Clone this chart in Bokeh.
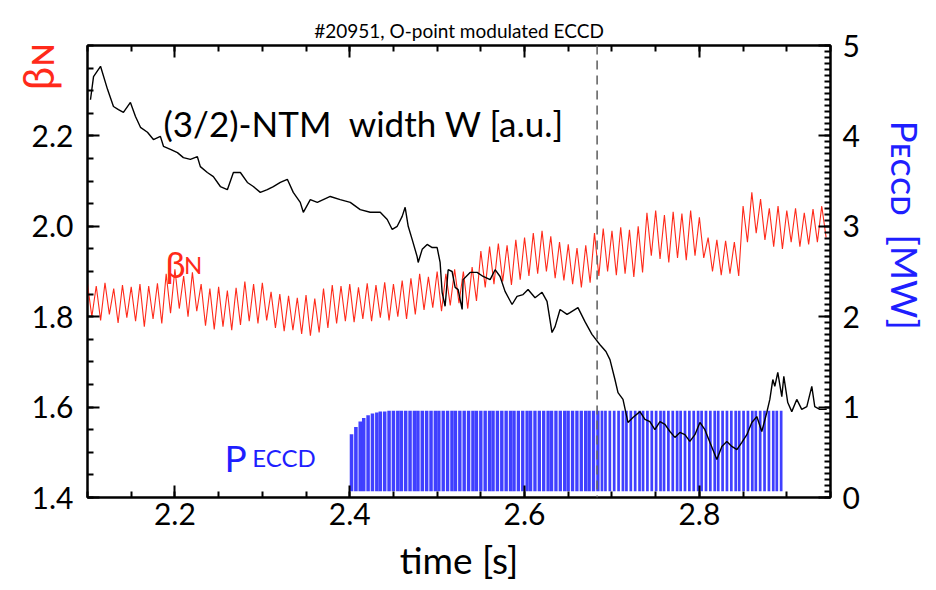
import math
from bokeh.plotting import figure
from bokeh.models import (Range1d, LinearAxis, Label, Span, FixedTicker, SingleIntervalTicker,
                          NumeralTickFormatter, CustomJSTickFormatter)
from bokeh.embed import file_html
from bokeh.resources import INLINE

# ---------------- data ----------------
# NTM island width W [a.u.] (drawn on the beta_N scale)
w_t = [2.1034, 2.1069, 2.1149, 2.1229, 2.1297, 2.1354, 2.1411, 2.1491, 2.1549, 2.1606,
       2.1686, 2.1754, 2.1834, 2.1869, 2.1949, 2.2029, 2.2097, 2.2177, 2.2257, 2.2291,
       2.2371, 2.2440, 2.2520, 2.2600, 2.2669, 2.2749, 2.2829, 2.2897, 2.2977, 2.3057,
       2.3126, 2.3206, 2.3286, 2.3354, 2.3434, 2.3469, 2.3549, 2.3629, 2.3697, 2.3777,
       2.3891, 2.4006, 2.4120, 2.4234, 2.4349, 2.4429, 2.4486, 2.4543, 2.4600, 2.4634,
       2.4669, 2.4714, 2.4771, 2.4783, 2.4829, 2.4886, 2.4943, 2.5000, 2.5034, 2.5057,
       2.5091, 2.5126, 2.5171, 2.5206, 2.5240, 2.5286, 2.5297, 2.5377, 2.5457, 2.5526,
       2.5606, 2.5663, 2.5720, 2.5777, 2.5857, 2.5914, 2.5983, 2.6040, 2.6120, 2.6200,
       2.6257, 2.6314, 2.6349, 2.6406, 2.6486, 2.6520, 2.6611, 2.6691, 2.6771, 2.6863,
       2.6931, 2.6977, 2.7034, 2.7069, 2.7126, 2.7183, 2.7240, 2.7320, 2.7377, 2.7434,
       2.7491, 2.7549, 2.7606, 2.7663, 2.7720, 2.7777, 2.7834, 2.7891, 2.7949, 2.8006,
       2.8063, 2.8120, 2.8200, 2.8257, 2.8314, 2.8371, 2.8429, 2.8486, 2.8543, 2.8600,
       2.8657, 2.8714, 2.8771, 2.8806, 2.8840, 2.8863, 2.8897, 2.8943, 2.8966, 2.9011,
       2.9057, 2.9114, 2.9171, 2.9229, 2.9286, 2.9320, 2.9377, 2.9457]
w_v = [2.280, 2.331, 2.354, 2.303, 2.265, 2.258, 2.252, 2.274, 2.243, 2.219,
       2.208, 2.192, 2.199, 2.177, 2.170, 2.163, 2.152, 2.148, 2.154, 2.132,
       2.119, 2.110, 2.088, 2.081, 2.119, 2.119, 2.097, 2.088, 2.075, 2.081,
       2.088, 2.097, 2.104, 2.075, 2.053, 2.031, 2.059, 2.053, 2.059, 2.066,
       2.059, 2.053, 2.037, 2.031, 2.031, 2.015, 1.993, 2.000, 2.022, 2.042,
       2.000, 1.971, 1.933, 1.920, 1.949, 1.960, 1.953, 1.953, 1.920, 1.854,
       1.823, 1.904, 1.900, 1.865, 1.860, 1.816, 1.882, 1.898, 1.898, 1.889,
       1.882, 1.904, 1.889, 1.856, 1.827, 1.845, 1.849, 1.860, 1.842, 1.854,
       1.834, 1.765, 1.778, 1.816, 1.805, 1.809, 1.820, 1.789, 1.761, 1.738,
       1.723, 1.705, 1.661, 1.632, 1.617, 1.566, 1.577, 1.590, 1.573, 1.568,
       1.550, 1.568, 1.562, 1.546, 1.533, 1.544, 1.539, 1.524, 1.539, 1.566,
       1.550, 1.522, 1.484, 1.513, 1.524, 1.513, 1.506, 1.522, 1.539, 1.566,
       1.579, 1.546, 1.588, 1.617, 1.661, 1.646, 1.677, 1.623, 1.668, 1.610,
       1.590, 1.617, 1.595, 1.601, 1.646, 1.601, 1.595, 1.595]

# beta_N : maxima and minima of the modulated trace
beta_peak_t = [2.100, 2.110, 2.120, 2.130, 2.140, 2.150, 2.160, 2.170, 2.180, 2.190,
               2.200, 2.210, 2.220, 2.230, 2.240, 2.250, 2.260, 2.270, 2.280, 2.290,
               2.300, 2.310, 2.320, 2.330, 2.340, 2.350, 2.360, 2.370, 2.380, 2.390,
               2.400, 2.410, 2.420, 2.430, 2.440, 2.450, 2.460, 2.470, 2.480, 2.490,
               2.500, 2.510, 2.520, 2.530, 2.540, 2.550, 2.560, 2.570, 2.580, 2.590,
               2.600, 2.610, 2.620, 2.630, 2.640, 2.650, 2.660, 2.670, 2.680, 2.690,
               2.700, 2.710, 2.720, 2.730, 2.740, 2.750, 2.760, 2.770, 2.780, 2.790,
               2.800, 2.810, 2.820, 2.830, 2.840, 2.850, 2.860, 2.870, 2.880, 2.890,
               2.900, 2.910, 2.920, 2.930, 2.940]
beta_peak = [1.872, 1.868, 1.875, 1.862, 1.870, 1.866, 1.872, 1.868, 1.874, 1.895,
             1.905, 1.890, 1.898, 1.872, 1.862, 1.866, 1.858, 1.864, 1.878, 1.872,
             1.875, 1.855, 1.850, 1.846, 1.842, 1.848, 1.840, 1.862, 1.870, 1.868,
             1.872, 1.865, 1.874, 1.870, 1.876, 1.872, 1.880, 1.885, 1.895, 1.888,
             1.900, 1.895, 1.905, 1.900, 1.910, 1.945, 1.955, 1.962, 1.958, 1.970,
             1.975, 1.985, 1.990, 1.978, 1.965, 1.960, 1.952, 1.958, 1.985, 1.995,
             1.990, 1.998, 1.992, 2.000, 2.030, 2.035, 2.025, 2.032, 2.028, 2.035,
             2.020, 1.975, 1.970, 1.968, 1.965, 2.045, 2.075, 2.060, 2.040, 2.045,
             2.035, 2.040, 2.030, 2.038, 2.045]
beta_trough_t = [2.105, 2.115, 2.125, 2.135, 2.145, 2.155, 2.165, 2.175, 2.185, 2.195,
                 2.205, 2.215, 2.225, 2.235, 2.245, 2.255, 2.265, 2.275, 2.285, 2.295,
                 2.305, 2.315, 2.325, 2.335, 2.345, 2.355, 2.365, 2.375, 2.385, 2.395,
                 2.405, 2.415, 2.425, 2.435, 2.445, 2.455, 2.465, 2.475, 2.485, 2.495,
                 2.505, 2.515, 2.525, 2.535, 2.545, 2.555, 2.565, 2.575, 2.585, 2.595,
                 2.605, 2.615, 2.625, 2.635, 2.645, 2.655, 2.665, 2.675, 2.685, 2.695,
                 2.705, 2.715, 2.725, 2.735, 2.745, 2.755, 2.765, 2.775, 2.785, 2.795,
                 2.805, 2.815, 2.825, 2.835, 2.845, 2.855, 2.865, 2.875, 2.885, 2.895,
                 2.905, 2.915, 2.925, 2.935, 2.945]
beta_trough = [1.800, 1.792, 1.805, 1.786, 1.798, 1.790, 1.778, 1.795, 1.785, 1.808,
               1.818, 1.800, 1.812, 1.780, 1.772, 1.778, 1.770, 1.782, 1.790, 1.785,
               1.792, 1.775, 1.768, 1.770, 1.762, 1.758, 1.765, 1.775, 1.785, 1.790,
               1.788, 1.795, 1.790, 1.798, 1.792, 1.800, 1.795, 1.805, 1.815, 1.820,
               1.812, 1.825, 1.830, 1.818, 1.835, 1.865, 1.872, 1.878, 1.870, 1.882,
               1.890, 1.895, 1.900, 1.885, 1.880, 1.872, 1.865, 1.875, 1.890, 1.900,
               1.892, 1.895, 1.888, 1.898, 1.935, 1.928, 1.920, 1.930, 1.925, 1.935,
               1.930, 1.900, 1.892, 1.895, 1.890, 1.965, 1.985, 1.970, 1.955, 1.950,
               1.965, 1.955, 1.960, 1.965, 1.975]

# ECCD power [MW]: pulse start times, on-levels and pulse lengths [s]
eccd_on = [2.400, 2.405, 2.410, 2.414, 2.419, 2.424, 2.429, 2.433, 2.438, 2.443,
           2.448, 2.453, 2.457, 2.462, 2.467, 2.472, 2.476, 2.481, 2.486, 2.491,
           2.496, 2.500, 2.505, 2.510, 2.515, 2.519, 2.524, 2.529, 2.534, 2.539,
           2.543, 2.548, 2.553, 2.558, 2.562, 2.567, 2.572, 2.577, 2.582, 2.586,
           2.591, 2.596, 2.601, 2.605, 2.610, 2.615, 2.620, 2.625, 2.629, 2.634,
           2.639, 2.644, 2.648, 2.653, 2.658, 2.663, 2.668, 2.672, 2.677, 2.682,
           2.687, 2.691, 2.696, 2.701, 2.706, 2.711, 2.715, 2.720, 2.725, 2.730,
           2.734, 2.739, 2.744, 2.749, 2.754, 2.758, 2.763, 2.768, 2.773, 2.777,
           2.782, 2.787, 2.792, 2.797, 2.801, 2.806, 2.811, 2.816, 2.820, 2.825,
           2.830, 2.835, 2.840, 2.844, 2.849, 2.854, 2.859, 2.863, 2.868, 2.873,
           2.878, 2.883, 2.887, 2.892]
eccd_p = [0.70, 0.78, 0.84, 0.88, 0.91, 0.93, 0.94, 0.95, 0.95, 0.96,
          0.96, 0.96, 0.96, 0.96, 0.96, 0.96, 0.96, 0.96, 0.96, 0.96,
          0.96, 0.96, 0.96, 0.96, 0.96, 0.96, 0.96, 0.96, 0.96, 0.96,
          0.96, 0.96, 0.96, 0.96, 0.96, 0.96, 0.96, 0.96, 0.96, 0.96,
          0.96, 0.96, 0.96, 0.96, 0.96, 0.96, 0.96, 0.96, 0.96, 0.96,
          0.96, 0.96, 0.96, 0.96, 0.96, 0.96, 0.96, 0.96, 0.96, 0.96,
          0.96, 0.96, 0.96, 0.96, 0.96, 0.96, 0.96, 0.96, 0.96, 0.96,
          0.96, 0.96, 0.96, 0.96, 0.96, 0.96, 0.96, 0.96, 0.96, 0.96,
          0.96, 0.96, 0.96, 0.96, 0.96, 0.96, 0.96, 0.96, 0.96, 0.96,
          0.96, 0.96, 0.96, 0.96, 0.96, 0.96, 0.96, 0.96, 0.96, 0.96,
          0.96, 0.96, 0.96, 0.96]
eccd_len = [0.0041, 0.0041, 0.0041, 0.0040, 0.0040, 0.0040, 0.0040, 0.0040, 0.0040, 0.0040,
            0.0040, 0.0040, 0.0040, 0.0040, 0.0040, 0.0040, 0.0040, 0.0040, 0.0040, 0.0040,
            0.0039, 0.0039, 0.0039, 0.0039, 0.0039, 0.0039, 0.0039, 0.0039, 0.0039, 0.0039,
            0.0039, 0.0039, 0.0039, 0.0039, 0.0039, 0.0039, 0.0039, 0.0039, 0.0039, 0.0039,
            0.0038, 0.0038, 0.0038, 0.0038, 0.0038, 0.0038, 0.0038, 0.0038, 0.0038, 0.0038,
            0.0038, 0.0038, 0.0038, 0.0038, 0.0038, 0.0038, 0.0038, 0.0038, 0.0038, 0.0038,
            0.0031, 0.0031, 0.0031, 0.0031, 0.0031, 0.0031, 0.0031, 0.0031, 0.0031, 0.0031,
            0.0031, 0.0031, 0.0031, 0.0031, 0.0031, 0.0031, 0.0031, 0.0031, 0.0031, 0.0031,
            0.0031, 0.0031, 0.0031, 0.0031, 0.0031, 0.0031, 0.0031, 0.0031, 0.0031, 0.0031,
            0.0031, 0.0031, 0.0031, 0.0031, 0.0031, 0.0031, 0.0031, 0.0031, 0.0031, 0.0031,
            0.0031, 0.0031, 0.0031, 0.0031]
eccd_base = 0.07
t_marker = 2.683

x_ticks = [2.2, 2.4, 2.6, 2.8]
y_ticks = [1.4, 1.6, 1.8, 2.0, 2.2]

# ---------------- build series ----------------
beta_t, beta_v = [], []
for tp, vp, tt, vt in zip(beta_peak_t, beta_peak, beta_trough_t, beta_trough):
    beta_t += [tp, tt]
    beta_v += [vp, vt]

eccd_off = [t0 + d for t0, d in zip(eccd_on, eccd_len)]
eccd_bot = [eccd_base for _ in eccd_on]

FONT = "Lato"
RED = "#ff2a1a"
BLUE = "#1f1fff"
EM = "\u2003"

p = figure(width=936, height=590, x_range=Range1d(2.10, 2.95), y_range=Range1d(1.4, 2.4),
           output_backend="svg", toolbar_location=None,
           min_border_left=87, min_border_right=106, min_border_top=45, min_border_bottom=93)
p.extra_y_ranges = {"p": Range1d(0, 5)}
p.xgrid.visible = False
p.ygrid.visible = False
p.outline_line_color = "black"
p.outline_line_width = 2
p.background_fill_color = "white"
p.border_fill_color = "white"

p.title.text = "#20951, O-point modulated ECCD"
p.title.align = "center"
p.title.text_font = FONT
p.title.text_font_size = "19px"
p.title.text_font_style = "normal"
p.title.text_color = "black"
p.title.standoff = 7

def style_axis(ax, tin, mtin):
    ax.major_tick_in = tin
    ax.major_tick_out = 0
    ax.minor_tick_in = mtin
    ax.minor_tick_out = 0
    ax.axis_line_width = 2
    ax.major_tick_line_width = 2
    ax.minor_tick_line_width = 2
    ax.axis_line_color = "black"
    ax.major_label_text_font = FONT
    ax.major_label_text_font_size = "30px"
    ax.major_label_text_color = "black"

xminor = [round(2.1 + 0.05 * i, 3) for i in range(18)]
xa = p.xaxis[0]
xa.ticker = FixedTicker(ticks=x_ticks, minor_ticks=xminor)
style_axis(xa, 12, 6)
xa.major_label_standoff = 5
xa.axis_label = "time [s]"
xa.axis_label_text_font = FONT
xa.axis_label_text_font_size = "37px"
xa.axis_label_text_font_style = "normal"
xa.axis_label_text_color = "black"
xa.axis_label_standoff = 9

ya = p.yaxis[0]
ya.ticker = FixedTicker(ticks=y_ticks, minor_ticks=[round(1.4 + 0.05 * i, 3) for i in range(21)])
ya.formatter = NumeralTickFormatter(format="0.0")
style_axis(ya, 12, 6)
ya.major_label_standoff = 14
ya.axis_label = EM * 13 + "β\u0274"
ya.axis_label_text_font = FONT
ya.axis_label_text_font_size = "42px"
ya.axis_label_text_font_style = "normal"
ya.axis_label_text_color = RED
ya.axis_label_standoff = -34

top = LinearAxis(ticker=FixedTicker(ticks=x_ticks, minor_ticks=xminor),
                 formatter=CustomJSTickFormatter(code="return ''"))
style_axis(top, 12, 6)
top.major_label_standoff = 0
p.add_layout(top, "above")

ra = LinearAxis(y_range_name="p", ticker=SingleIntervalTicker(interval=1, num_minor_ticks=15))
style_axis(ra, 12, 6)
ra.major_label_standoff = 12
ra.axis_label = "P\u1d07\u1d04\u1d04\u1d05\u2002[MW]" + EM * 3 + " "
ra.axis_label_text_font = FONT
ra.axis_label_text_font_size = "37px"
ra.axis_label_text_font_style = "normal"
ra.axis_label_text_color = BLUE
ra.axis_label_standoff = 20
p.add_layout(ra, "right")

# glyphs
p.quad(left=eccd_on, right=eccd_off, bottom=eccd_bot, top=eccd_p, y_range_name="p",
       fill_color=BLUE, fill_alpha=0.85, line_color=None)
p.line(beta_t, beta_v, line_color=RED, line_width=1.1)
p.line(w_t, w_v, line_color="black", line_width=1.4)
p.add_layout(Span(location=t_marker, dimension="height", line_color="#666666",
                  line_width=1.6, line_dash="9 6"))

def lab(x, y, text, size, color="black", align="left", rng=None):
    kw = dict(x=x, y=y, text=text, text_font=FONT, text_font_size=size, text_color=color,
              text_align=align, text_baseline="alphabetic")
    if rng:
        kw["y_range_name"] = rng
    p.add_layout(Label(**kw))

lab(2.1869, 2.2296, "(3/2)-NTM\u00a0 width W [a.u.]", "35px")
lab(2.1891, 1.9155, "β", "36px", RED)
lab(2.2105, 1.9155, "N", "24px", RED)
lab(2.2566, 0.442, "P", "37px", BLUE, rng="p")
lab(2.2886, 0.442, "ECCD", "24px", BLUE, rng="p")

open("out.html", "w").write(file_html(p, INLINE))
